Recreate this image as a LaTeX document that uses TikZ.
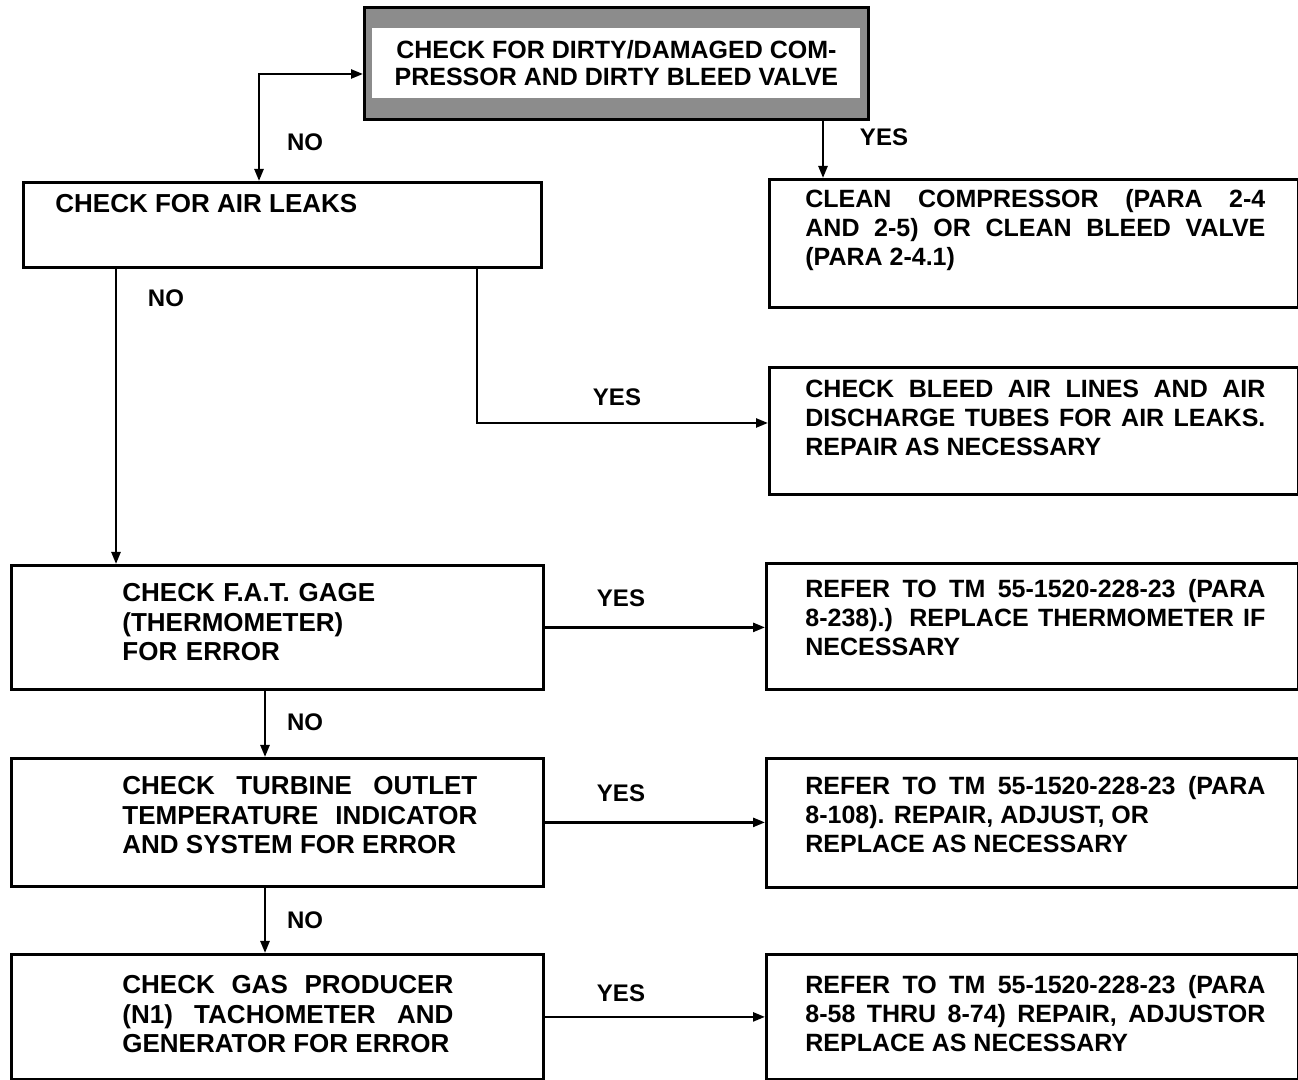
\documentclass[tikz,border=0pt]{standalone}
\usepackage{fontspec}
\setmainfont{Liberation Sans}
\usetikzlibrary{arrows.meta,positioning}

\newcommand{\rsize}{\fontsize{12.5}{14.5}\selectfont}
\newcommand{\lsize}{\fontsize{13}{14.75}\selectfont}

\begin{document}
\begin{tikzpicture}[x=0.5pt,y=-0.5pt,
  box/.style={draw,line width=1.4pt,anchor=north west,inner sep=0pt},
  rtxt/.style={anchor=north west,inner sep=0pt,text width=230pt,align=justify,font=\bfseries\rsize},
  ltxt/.style={anchor=north west,inner sep=0pt,align=justify,font=\bfseries\lsize},
  lbl/.style={font=\bfseries\fontsize{12}{14}\selectfont,inner sep=0pt},
  flow/.style={-{Triangle[length=6pt,width=4.5pt]},line width=1.2pt},
  both/.style={{Triangle[length=6pt,width=4.5pt]}-{Triangle[length=6pt,width=4.5pt]},line width=1.2pt}]
  \useasboundingbox (0,0) rectangle (1298,1080);

  % shaded start box
  \node[box,fill=black!45,minimum width=252pt,minimum height=56pt] (dirty) at (363,6) {};
  \node[fill=white,inner xsep=6pt,inner ysep=0pt,minimum width=244pt,minimum height=35pt,
        align=center,font=\bfseries\fontsize{12.5}{13.5}\selectfont] (dirtytxt) at (dirty.center)
    {CHECK FOR DIRTY/DAMAGED COM-\\PRESSOR AND DIRTY BLEED VALVE};

  % left column
  \node[box,minimum width=259pt,minimum height=42.5pt] (air) at (22,181) {};
  \node[box,minimum width=266pt,minimum height=62pt] (fat) at (10,564) {};
  \node[box,minimum width=266pt,minimum height=64pt] (tot) at (10,757) {};
  \node[box,minimum width=266pt,minimum height=62.5pt] (gp) at (10,953) {};

  % right column
  \node[box,minimum width=264.5pt,minimum height=64pt] (clean) at (768,178) {};
  \node[box,minimum width=264.5pt,minimum height=63.5pt] (bleed) at (768,366) {};
  \node[box,minimum width=266pt,minimum height=63pt] (fatfix) at (765,562) {};
  \node[box,minimum width=266pt,minimum height=64.5pt] (totfix) at (765,757) {};
  \node[box,minimum width=266pt,minimum height=62.5pt] (gpfix) at (765,953) {};

  % box texts
  \node[ltxt,text width=160pt,below right=6.5pt and 16.5pt of air.north west] (airtxt)
    {CHECK FOR AIR LEAKS};
  \node[ltxt,text width=160pt,align=left,below right=9.5pt and 56pt of fat.north west] (fattxt)
    {CHECK F.A.T. GAGE\\(THERMOMETER)\\FOR ERROR};
  \node[ltxt,text width=177.5pt,below right=9.5pt and 56pt of tot.north west] (tottxt)
    {CHECK TURBINE OUTLET\linebreak TEMPERATURE INDICATOR\linebreak AND SYSTEM FOR ERROR};
  \node[ltxt,text width=165.5pt,below right=11pt and 56pt of gp.north west] (gptxt)
    {CHECK GAS PRODUCER\linebreak (N1) TACHOMETER AND\linebreak GENERATOR FOR ERROR};

  \node[rtxt,below right=5.5pt and 18.5pt of clean.north west] (cleantxt)
    {CLEAN COMPRESSOR (PARA 2-4\linebreak AND 2-5) OR CLEAN BLEED VALVE\linebreak (PARA 2-4.1)};
  \node[rtxt,below right=7pt and 18.5pt of bleed.north west] (bleedtxt)
    {CHECK BLEED AIR LINES AND AIR\linebreak DISCHARGE TUBES FOR AIR LEAKS.\linebreak REPAIR AS NECESSARY};
  \node[rtxt,below right=8.5pt and 20pt of fatfix.north west] (fatfixtxt)
    {REFER TO TM 55-1520-228-23 (PARA\linebreak 8-238).) REPLACE THERMOMETER IF\linebreak NECESSARY};
  \node[rtxt,below right=9.5pt and 20pt of totfix.north west] (totfixtxt)
    {REFER TO TM 55-1520-228-23 (PARA\linebreak 8-108). REPAIR, ADJUST, OR\\ REPLACE AS NECESSARY};
  \node[rtxt,below right=11pt and 20pt of gpfix.north west] (gpfixtxt)
    {REFER TO TM 55-1520-228-23 (PARA\linebreak 8-58 THRU 8-74) REPAIR, ADJUSTOR\linebreak REPLACE AS NECESSARY};

  % connectors
  \coordinate (nox) at (259,74);
  \coordinate (yesx) at (823,0);
  \coordinate (leakx) at (477,423);
  \coordinate (fatx) at (116,0);
  \coordinate (downx) at (265,0);
  \draw[both] (air.north -| nox) |- (dirty.west |- nox);
  \draw[flow] (dirty.south -| yesx) -- (clean.north -| yesx);
  \draw[flow] (air.south -| leakx) |- (bleed.west |- leakx);
  \draw[flow] (air.south -| fatx) -- (fat.north -| fatx);
  \draw[flow] (fat.east) -- (fatfix.west |- fat.east);
  \draw[flow] (fat.south -| downx) -- (tot.north -| downx);
  \draw[flow] (tot.east) -- (totfix.west |- tot.east);
  \draw[flow] (tot.south -| downx) -- (gp.north -| downx);
  \draw[flow] (gp.east) -- (gpfix.west |- gp.east);

  % yes/no labels
  \node[lbl] (no1) at (305,142) {NO};
  \node[lbl] (yes1) at (884,137) {YES};
  \node[lbl] (no2) at (166,298) {NO};
  \node[lbl] (yes2) at (617,397) {YES};
  \node[lbl] (yes3) at (621,598) {YES};
  \node[lbl] (no3) at (305,722) {NO};
  \node[lbl] (yes4) at (621,793) {YES};
  \node[lbl] (no4) at (305,920) {NO};
  \node[lbl] (yes5) at (621,993) {YES};
\end{tikzpicture}
\end{document}
